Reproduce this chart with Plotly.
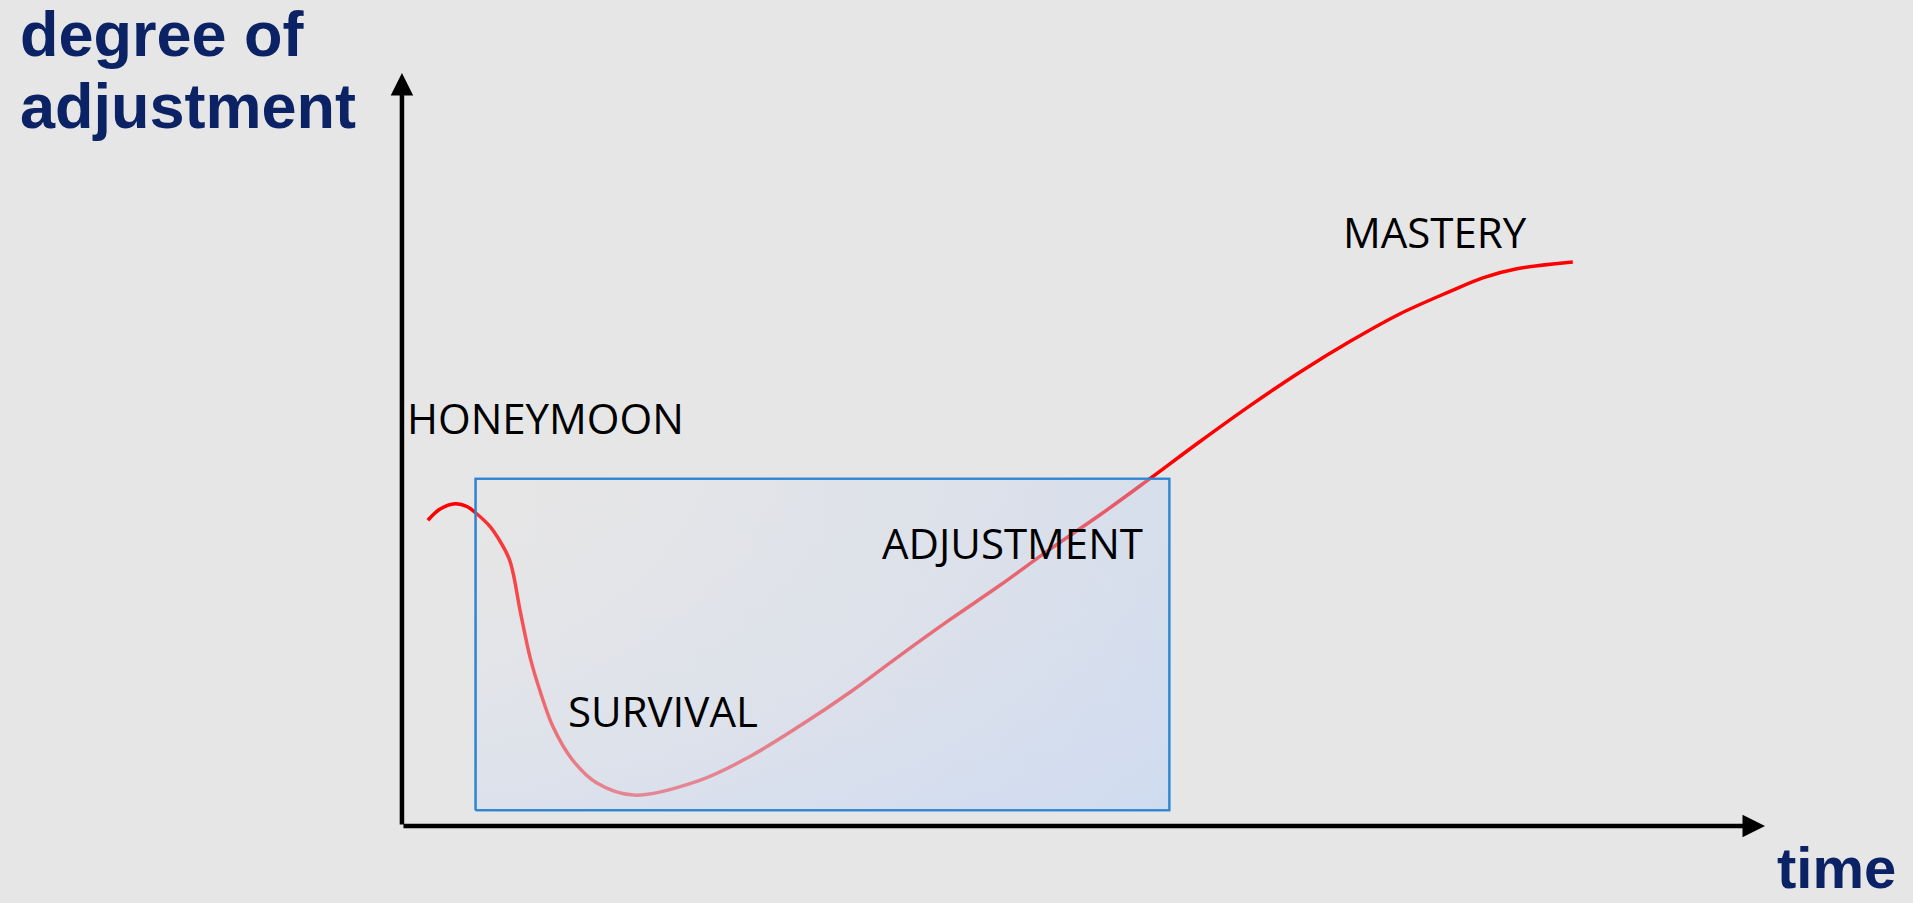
# CULTURE SHOCK CURVE - degree of adjustment over time

import plotly.graph_objects as go

# curve (time on x, degree of adjustment on y, both 0-100)
time = [1.9, 2.8, 3.9, 4.8, 5.4, 6.5, 7.0, 7.9, 8.7, 9.4, 10.1, 11.1, 12.5, 14.3,
        17.0, 21.9, 25.5, 29.2, 32.9, 36.5, 40.2, 43.9, 47.5, 51.2, 54.7, 58.5,
        62.2, 65.9, 69.6, 73.2, 76.9, 79.3, 81.8, 85.9]
adjustment = [40.6, 42.1, 42.8, 42.4, 41.6, 39.7, 38.4, 35.3, 28.3, 22.4, 18.1,
              13.1, 8.8, 5.7, 4.1, 6.1, 9.2, 13.3, 17.8, 22.6, 27.4, 32.0, 36.7,
              41.3, 45.9, 51.0, 55.8, 60.3, 64.4, 68.0, 71.0, 72.8, 74.0, 74.9]

# shaded box (survival + adjustment period)
box_time = [5.4, 56.3, 56.3, 5.4, 5.4]
box_level = [2.1, 2.1, 46.1, 46.1, 2.1]

# stage labels
stages = ["HONEYMOON", "SURVIVAL", "ADJUSTMENT", "MASTERY"]
stage_time = [10.5, 19.15, 44.8, 75.8]
stage_level = [54.3, 15.4, 37.7, 78.9]

bg = "#e6e6e6"
navy = "#0b2265"

fig = go.Figure()

fig.add_trace(go.Scatter(x=time, y=adjustment, mode="lines",
                         line=dict(color="#ff0000", width=3.5, shape="spline", smoothing=1.0),
                         hoverinfo="skip"))

# box drawn over the curve, two gradient layers to fake the diagonal shading
fig.add_trace(go.Scatter(x=box_time, y=box_level, mode="lines", fill="toself",
                         line=dict(color="#2d84d2", width=2),
                         fillgradient=dict(type="vertical", start=2.1, stop=46.1,
                                           colorscale=[[0, "rgba(212,222,240,0.6)"],
                                                       [1, "rgba(234,230,230,0.15)"]]),
                         hoverinfo="skip"))
fig.add_trace(go.Scatter(x=box_time, y=box_level, mode="lines", fill="toself",
                         line=dict(color="#2d84d2", width=2),
                         fillgradient=dict(type="horizontal", start=5.4, stop=56.3,
                                           colorscale=[[0, "rgba(200,215,245,0)"],
                                                       [1, "rgba(180,206,248,0.32)"]]),
                         hoverinfo="skip"))

# axes as arrows
fig.add_annotation(x=0, y=100, ax=0, ay=0, xref="x", yref="y", axref="x", ayref="y",
                   showarrow=True, arrowhead=2, arrowsize=1, arrowwidth=4.5,
                   arrowcolor="black", text="")
fig.add_annotation(x=100, y=0, ax=0, ay=0, xref="x", yref="y", axref="x", ayref="y",
                   showarrow=True, arrowhead=2, arrowsize=1, arrowwidth=4.5,
                   arrowcolor="black", text="")

for s, t, l in zip(stages, stage_time, stage_level):
    fig.add_annotation(x=t, y=l, text=s, showarrow=False, xanchor="center", yanchor="middle",
                       font=dict(family="Open Sans", size=42, color="black"))

axis_font = dict(family="Liberation Sans, Arial", size=63, color=navy, weight="bold")
fig.add_annotation(x=-28.2, y=105.2, text="degree of", showarrow=False,
                   xanchor="left", yanchor="middle", font=axis_font)
fig.add_annotation(x=-28.2, y=95.6, text="adjustment", showarrow=False,
                   xanchor="left", yanchor="middle", font=axis_font)
fig.add_annotation(x=100.7, y=-5.5, text="time", showarrow=False,
                   xanchor="left", yanchor="middle",
                   font=dict(family="Liberation Sans, Arial", size=58, color=navy, weight="bold"))

fig.update_layout(width=1913, height=903, margin=dict(l=0, r=0, t=0, b=0),
                  paper_bgcolor=bg, plot_bgcolor=bg, showlegend=False)
fig.update_xaxes(range=[-29.49, 110.86], visible=False)
fig.update_yaxes(range=[-10.23, 109.7], visible=False)

fig.write_html("out.html", config={"displayModeBar": False},
               post_script="document.body.style.margin='0';document.body.style.background='#e6e6e6';")
